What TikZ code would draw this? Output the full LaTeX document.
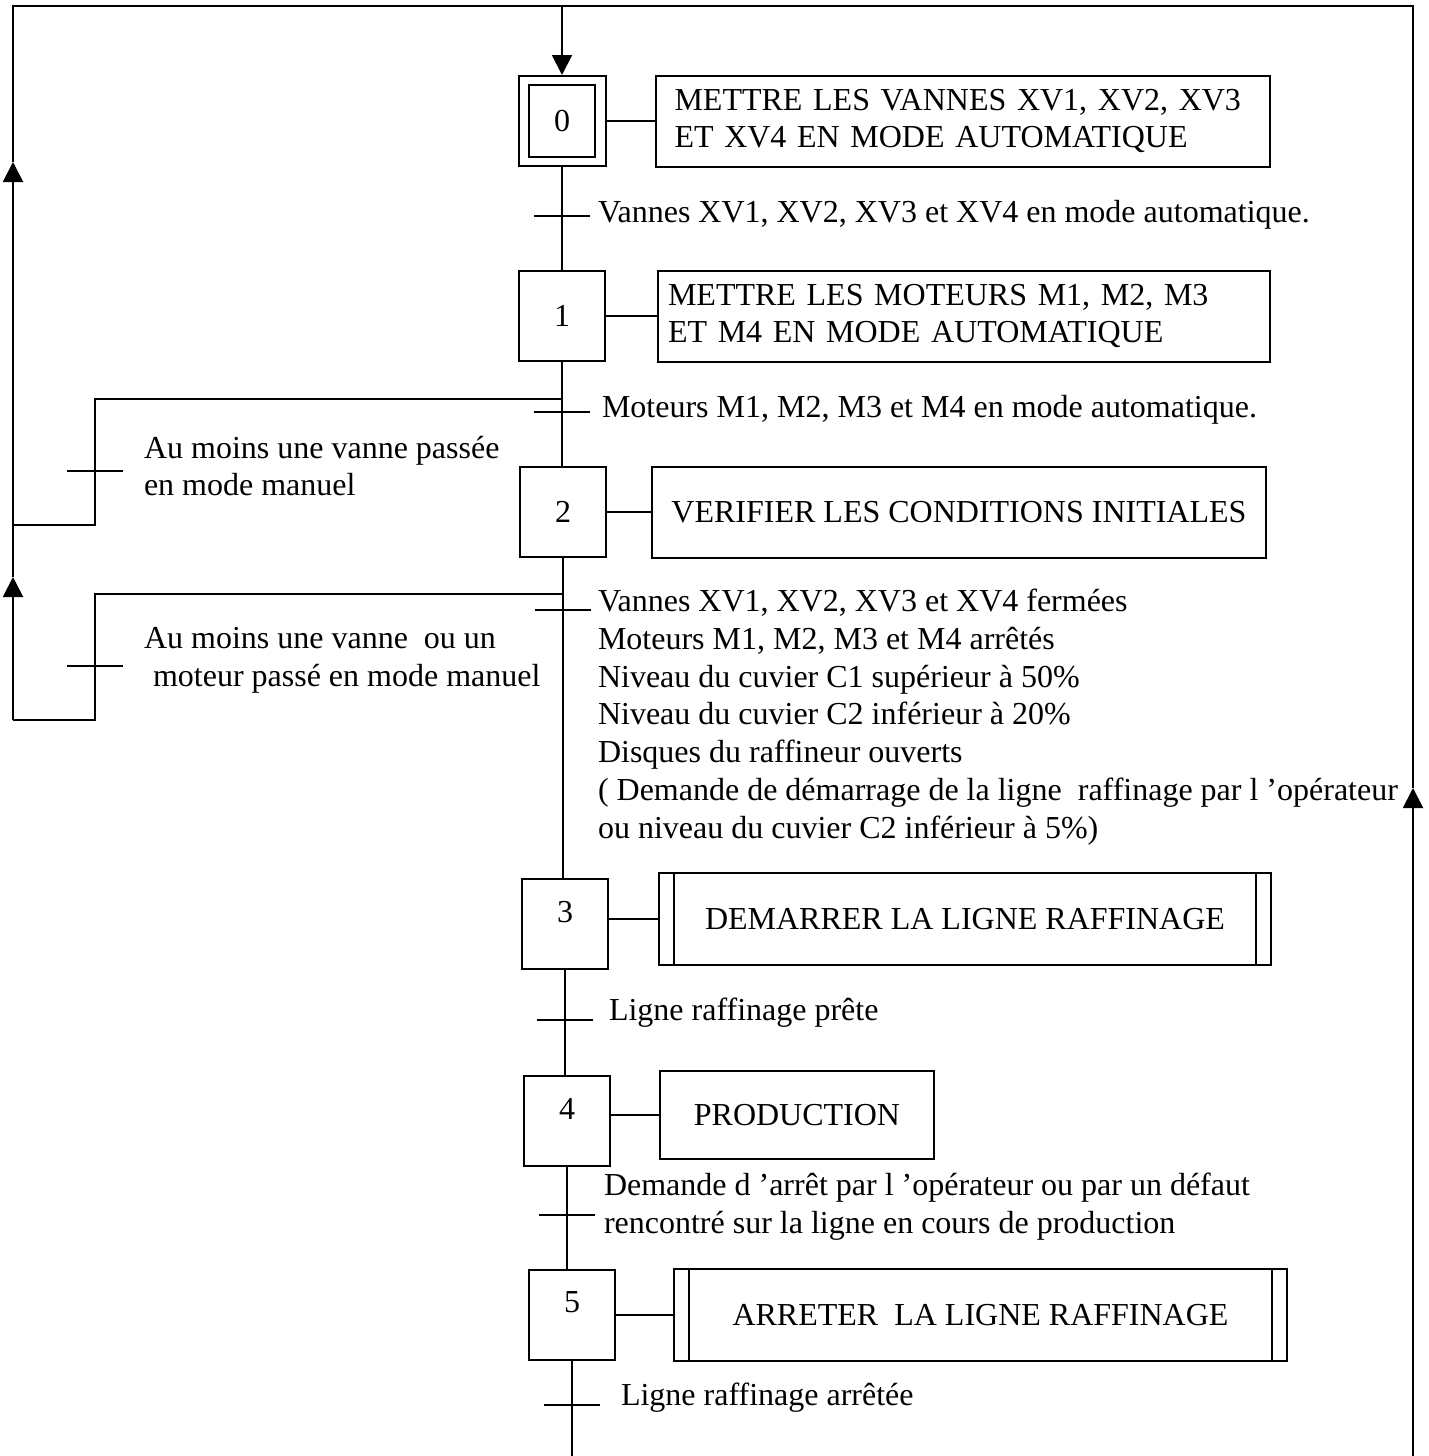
\documentclass[tikz,border=0pt]{standalone}
\usepackage{fontspec}
\setmainfont{Liberation Serif}
\usetikzlibrary{arrows.meta,positioning}
\tikzset{
  etape/.style={draw, minimum width=86pt, minimum height=90pt, inner sep=0pt},
  action/.style={draw, minimum height=91pt, inner sep=0pt},
  macro/.style={action, path picture={
    \draw ([xshift=15pt]path picture bounding box.north west) -- ([xshift=15pt]path picture bounding box.south west)
          ([xshift=-15pt]path picture bounding box.north east) -- ([xshift=-15pt]path picture bounding box.south east);}},
  recept/.style={anchor=west, align=left, inner sep=0pt},
  fleche/.style={-{Triangle[length=20pt,width=20pt]}},
}
\begin{document}
\begin{tikzpicture}[x=1pt, y=-1pt, line width=2pt, font=\fontsize{32}{37.8}\selectfont]
	\useasboundingbox (0,0) rectangle (1429,1456);
	% etapes
	\node[etape, minimum width=87pt] (e0) at (562,121) {};
	\node[draw, minimum width=66pt, minimum height=72pt, inner sep=0pt] (e0i) at (e0) {0};
	\node[etape] (e1) at (562,316) {1};
	\node[etape] (e2) at (563,512) {2};
	\node[etape] (e3) at (565,924) {};
	\node[etape] (e4) at (567,1121) {};
	\node[etape] (e5) at (572,1315) {};
	\foreach \n in {3,4,5} \node[inner sep=0pt, below=22pt of e\n.north] (n\n) {\n};
	% actions
	\node[action, right=48pt of e0, text width=576pt, inner xsep=19pt, align=left] (a0) {METTRE LES VANNES XV1, XV2, XV3\\ET XV4 EN MODE AUTOMATIQUE};
	\node[action, right=51pt of e1, text width=592pt, inner xsep=10pt, align=left] (a1) {METTRE LES MOTEURS M1, M2, M3\\ET M4 EN MODE AUTOMATIQUE};
	\node[action, right=44pt of e2, minimum width=614pt] (a2) {VERIFIER LES CONDITIONS INITIALES};
	\node[macro, right=49pt of e3, yshift=5pt, minimum width=612pt, minimum height=92pt] (a3) {DEMARRER LA LIGNE RAFFINAGE};
	\node[action, right=48pt of e4, yshift=6pt, minimum width=274pt, minimum height=88pt] (a4) {PRODUCTION};
	\node[macro, right=57pt of e5, minimum width=613pt, minimum height=92pt] (a5) {ARRETER~ LA LIGNE RAFFINAGE};
	\foreach \n in {0,1,2,3,4,5} \draw (a\n.west -| e\n.east) -- (a\n.west);
	% liaisons principales
	\coordinate (h0) at (e0.north |- 0,6);
	\coordinate (bas) at (e5.south |- 0,1456);
	\draw[fleche] (h0) -- (e0.north);
	\draw (e0.south) -- (e0.south |- e1.north);
	\draw (e1.south) -- (e1.south |- e2.north);
	\draw (e2.south) -- (e2.south |- e3.north);
	\draw (e3.south) -- (e3.south |- e4.north);
	\draw (e4.south) -- (e4.south |- e5.north);
	\draw (e5.south) -- (bas);
	% transitions
	\coordinate (t0) at (e0.south |- 0,216);
	\coordinate (t1) at (e1.south |- 0,412);
	\coordinate (t2) at (e2.south |- 0,610);
	\coordinate (t3) at (e3.south |- 0,1020);
	\coordinate (t4) at (e4.south |- 0,1215);
	\coordinate (t5) at (e5.south |- 0,1405);
	\coordinate (k1) at (95,471);
	\coordinate (k2) at (95,666);
	\foreach \t in {t0,t1,t2,t3,t4,t5,k1,k2} \draw ([xshift=-28pt]\t) -- ([xshift=28pt]\t);
	\node[recept] (r0) at (597,215) {Vannes XV1, XV2, XV3 et XV4 en mode automatique.};
	\node[recept] (r1) at (601,410) {Moteurs M1, M2, M3 et M4 en mode automatique.};
	\node[recept] (r2) at (597,717) {Vannes XV1, XV2, XV3 et XV4 fermées\\
		Moteurs M1, M2, M3 et M4 arrêtés\\
		Niveau du cuvier C1 supérieur à 50\%\\
		Niveau du cuvier C2 inférieur à 20\%\\
		Disques du raffineur ouverts\\
		( Demande de démarrage de la ligne~ raffinage par l ’opérateur\\
		ou niveau du cuvier C2 inférieur à 5\%)};
	\node[recept] (r3) at (608,1013) {Ligne raffinage prête};
	\node[recept] (r4) at (603,1207) {Demande d ’arrêt par l ’opérateur ou par un défaut\\rencontré sur la ligne en cours de production};
	\node[recept] (r5) at (620,1398) {Ligne raffinage arrêtée};
	% reprises
	\coordinate (b1) at (e1.south |- 0,399);
	\coordinate (b2) at (e2.south |- 0,594);
	\coordinate (g1) at (13,525);
	\coordinate (g2) at (13,720);
	\coordinate (f1) at (13,162);
	\coordinate (f2) at (13,577);
	\coordinate (f3) at (1413,788);
	\coordinate (hg) at (13,6);
	\coordinate (hd) at (1413,6);
	\coordinate (bd) at (1413,1456);
	\draw (b1) -| (k1) |- (g1);
	\draw (b2) -| (k2) |- (g2);
	\node[recept] (rb1) at (143,466) {Au moins une vanne passée\\en mode manuel};
	\node[recept] (rb2) at (143,660) {Au moins une vanne~ ou un\\\hspace*{9pt}moteur passé en mode manuel};
	\draw[fleche] (g2) -- (f2);
	\draw (f2) -- (g1);
	\draw[fleche] (g1) -- (f1);
	\draw (f1) -- (hg) -- (hd) -- (f3);
	\draw[fleche] (bd) -- (f3);
\end{tikzpicture}
\end{document}
